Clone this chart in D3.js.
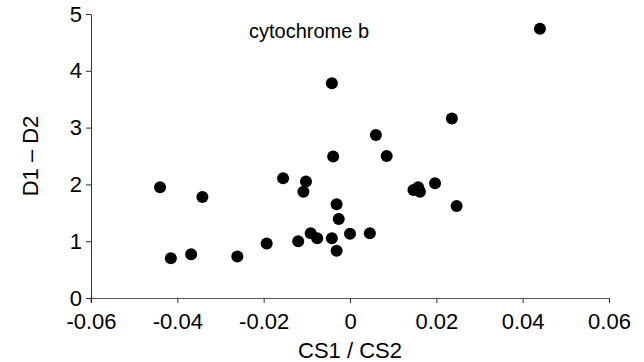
<!DOCTYPE html>
<html>
<head>
<meta charset="utf-8">
<script src="https://cdn.jsdelivr.net/npm/d3@7"></script>
<style>
  body { margin: 0; background: #fff; }
  svg { display: block; font-family: "Liberation Sans", Arial, sans-serif; }
</style>
</head>
<body>
<svg width="644" height="362"></svg>
<script>
const xValues = [-0.0440, -0.0342, -0.0415, -0.0368, -0.0261, -0.0042, -0.0039, -0.0155, -0.0102, -0.0108,
  -0.0031, -0.0026, -0.0193, -0.0120, -0.0091, -0.0076, -0.0042, 0.0, -0.0031, 0.0046,
  0.0236, 0.0060, 0.0085, 0.0147, 0.0158, 0.0162, 0.0197, 0.0247, 0.0440];
const yValues = [1.95, 1.78, 0.70, 0.77, 0.73, 3.78, 2.49, 2.11, 2.05, 1.87,
  1.65, 1.39, 0.96, 1.00, 1.14, 1.05, 1.05, 1.13, 0.83, 1.14,
  3.16, 2.87, 2.50, 1.90, 1.95, 1.87, 2.02, 1.62, 4.74];
const xTicks = [-0.06, -0.04, -0.02, 0, 0.02, 0.04, 0.06];
const yTicks = [0, 1, 2, 3, 4, 5];

const svg = d3.select('svg');
const margin = { top: 14, right: 35, bottom: 64, left: 91 };
const width = 644 - margin.left - margin.right;
const height = 362 - margin.top - margin.bottom;

const x = d3.scaleLinear().domain([-0.06, 0.06]).range([0, width]);
const y = d3.scaleLinear().domain([0, 5]).range([height, 0]);

const g = svg.append('g')
  .attr('transform', `translate(${margin.left}, ${margin.top})`);

// x axis, ticks hanging below
const xAxis = g.append('g')
  .attr('transform', `translate(0, ${height})`)
  .call(d3.axisBottom(x).tickValues(xTicks).tickSize(5).tickSizeOuter(0)
    .tickFormat(d => d === 0 ? '0' : d3.format('.2f')(d).replace('−', '-')));
xAxis.select('.domain').attr('stroke', '#555');
xAxis.selectAll('.tick line').attr('stroke', '#333');
xAxis.selectAll('.tick text')
  .attr('y', 15)
  .attr('fill', '#000')
  .style('font-size', '22px');

// y axis
const yAxis = g.append('g')
  .call(d3.axisLeft(y).tickValues(yTicks).tickSize(5).tickSizeOuter(0)
    .tickFormat(d3.format('d')));
yAxis.select('.domain').attr('stroke', '#333');
yAxis.selectAll('.tick line').attr('stroke', '#333');
yAxis.selectAll('.tick text')
  .attr('x', -9)
  .attr('fill', '#000')
  .style('font-size', '22px');

g.append('line')
  .attr('x1', 0).attr('x2', 0)
  .attr('y1', height).attr('y2', height + 4)
  .attr('stroke', '#333');

// points
g.append('g')
  .selectAll('circle')
  .data(xValues.map((v, i) => [v, yValues[i]]))
  .enter().append('circle')
  .attr('cx', d => x(d[0]))
  .attr('cy', d => y(d[1]))
  .attr('r', 6)
  .attr('fill', '#000');

// titles
g.append('text')
  .attr('x', x(-0.0095))
  .attr('y', 24)
  .attr('text-anchor', 'middle')
  .style('font-size', '20px')
  .text('cytochrome b');

g.append('text')
  .attr('x', x(0))
  .attr('y', height + 60)
  .attr('text-anchor', 'middle')
  .style('font-size', '22px')
  .text('CS1 / CS2');

g.append('text')
  .attr('transform', `translate(-53, ${y(2.5)}) rotate(-90)`)
  .attr('text-anchor', 'middle')
  .style('font-size', '22px')
  .text('D1 – D2');
</script>
</body>
</html>
